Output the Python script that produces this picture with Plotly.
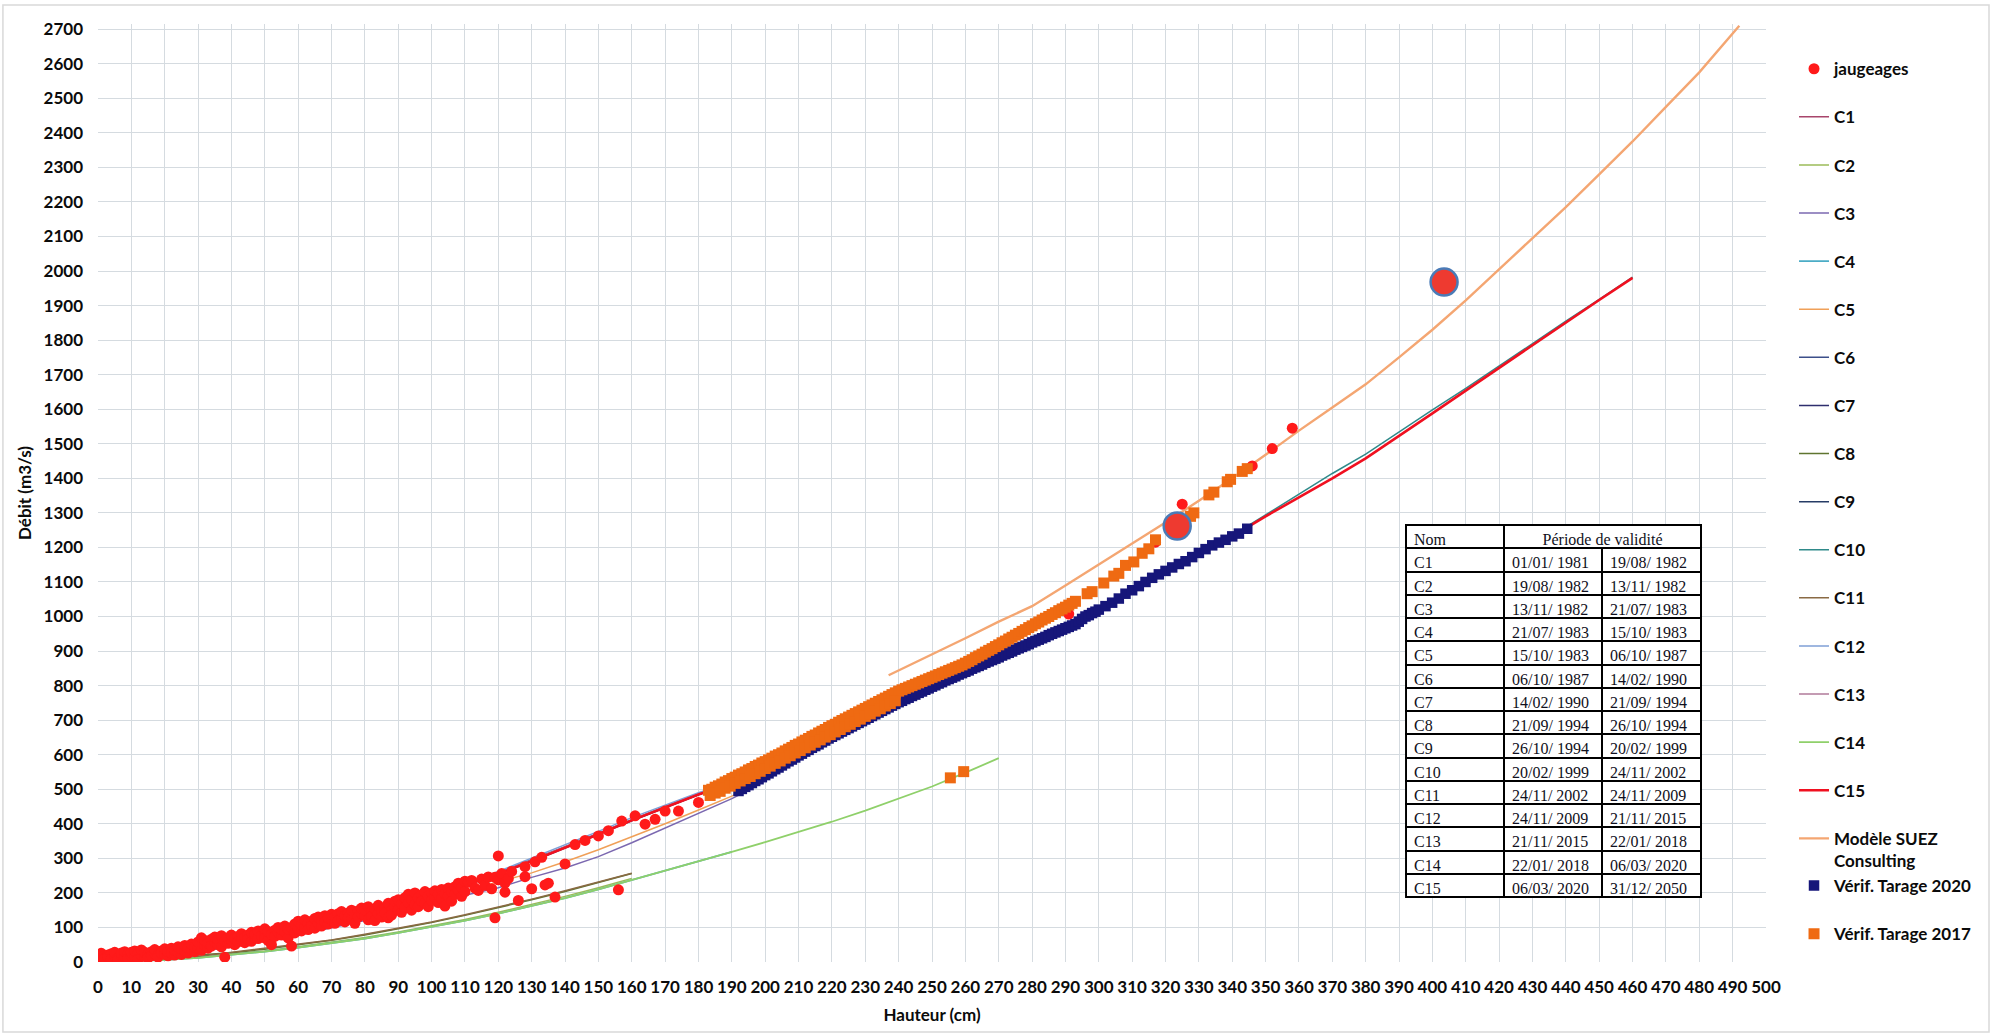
import plotly.graph_objects as go

FONT = "Lato"
INK = "#0b0b0b"

# ---------------------------------------------------------------- gaugings
# (hauteur cm, débit m3/s)
jaugeages = [
    (0, 15), (0, 22), (1, 12), (1, 25), (2, 18), (2, 10), (3, 20), (3, 14), (4, 24), (4, 8),
    (5, 18), (5, 28), (6, 12), (6, 6), (7, 20), (7, 26), (8, 15), (8, 30), (9, 22), (9, 10),
    (10, 18), (10, 28), (11, 14), (11, 32), (12, 24), (12, 8), (13, 20), (13, 35), (14, 16), (14, 28),
    (15, 22), (15, 12), (16, 30), (16, 18), (17, 25), (17, 36), (18, 20), (18, 14), (19, 32), (19, 26),
    (20, 22), (20, 38), (21, 18), (21, 30), (22, 40), (22, 26), (23, 20), (23, 34), (24, 28), (24, 44),
    (25, 22), (25, 38), (26, 32), (26, 48), (27, 26), (27, 40), (28, 36), (28, 52), (29, 30), (29, 44),
    (30, 40), (30, 58), (31, 34), (31, 70), (32, 48), (32, 62), (33, 40), (33, 55), (34, 66), (34, 46),
    (35, 58), (35, 72), (36, 50), (36, 64), (37, 44), (37, 76), (38, 60), (38, 14), (39, 54), (39, 70),
    (40, 62), (40, 78), (41, 50), (41, 68), (42, 74), (42, 58), (43, 64), (43, 82), (44, 56), (44, 72),
    (45, 78), (45, 66), (46, 60), (46, 86), (47, 72), (47, 80), (48, 68), (48, 90), (49, 76), (50, 84),
    (50, 70), (50, 96), (51, 62), (51, 88), (52, 80), (52, 50), (53, 92), (53, 74), (54, 86), (54, 100),
    (55, 78), (55, 94), (56, 88), (56, 104), (57, 70), (57, 96), (58, 46), (58, 100), (59, 84), (59, 110),
    (60, 96), (60, 118), (61, 90), (61, 108), (62, 100), (62, 122), (63, 112), (63, 94), (64, 118), (64, 104),
    (65, 126), (65, 98), (66, 112), (66, 130), (67, 120), (67, 104), (68, 134), (68, 116), (69, 110), (69, 128),
    (70, 122), (70, 138), (71, 112), (71, 130), (72, 140), (72, 120), (73, 126), (73, 146), (74, 116), (74, 134),
    (75, 142), (75, 128), (76, 124), (76, 150), (77, 136), (77, 112), (78, 148), (78, 130), (79, 140), (79, 156),
    (80, 134), (80, 150), (81, 122), (81, 160), (82, 146), (82, 132), (83, 154), (83, 120), (84, 140), (84, 164),
    (85, 150), (85, 130), (86, 158), (86, 142), (87, 128), (87, 170), (88, 150), (88, 136), (89, 162), (89, 176),
    (90, 150), (90, 180), (91, 144), (91, 168), (92, 186), (92, 158), (93, 172), (93, 196), (94, 150), (94, 180),
    (95, 200), (95, 166), (96, 186), (96, 160), (97, 194), (97, 176), (98, 204), (98, 170), (99, 190), (99, 160),
    (100, 200), (100, 178), (101, 188), (101, 206), (102, 172), (102, 196), (103, 210), (103, 184), (104, 162),
    (104, 198), (105, 214), (105, 190), (106, 204), (106, 176), (107, 218), (107, 196), (108, 208), (108, 228),
    (109, 190), (109, 216), (110, 234), (110, 204), (111, 231), (112, 236), (113, 214), (114, 207), (115, 240),
    (116, 222), (117, 246), (118, 212), (119, 245), (119, 128), (120, 307), (120, 238), (121, 256), (122, 228),
    (122, 202), (123, 242), (124, 262), (126, 178), (128, 247), (128, 276), (130, 212), (131, 290), (133, 303),
    (134, 223), (135, 228), (137, 188), (140, 284), (143, 340), (146, 352), (150, 365), (153, 380), (156, 209),
    (157, 408), (161, 423), (164, 399), (167, 413), (170, 437), (174, 437), (180, 462),
    (219, 678), (291, 1007), (317, 1215), (325, 1325), (346, 1436), (352, 1486), (358, 1545),
]

# two highlighted gaugings (large markers, not in legend)
temoins = [(323.5, 1262), (403.5, 1968)]

# ------------------------------------------------------ Vérif. Tarage 2020
verif_2020 = [
    (192, 495), (193, 501), (194, 507), (195, 512), (196, 518), (197, 524), (198, 529), (199, 535),
    (200, 541), (201, 546), (202, 552), (203, 558), (204, 563), (205, 569), (206, 575), (207, 581),
    (208, 586), (209, 592), (210, 598), (211, 603), (212, 609), (213, 614), (214, 620), (215, 625),
    (216, 630), (217, 636), (218, 641), (219, 647), (220, 652), (221, 657), (222, 662), (223, 667),
    (224, 672), (225, 677), (226, 682), (227, 687), (228, 692), (229, 697), (230, 702), (231, 707),
    (232, 712), (233, 717), (234, 722), (235, 727), (236, 732), (237, 737), (238, 742), (239, 747),
    (240, 752), (241, 756), (242, 761), (243, 765), (244, 770), (245, 774), (246, 779), (247, 783),
    (248, 788), (249, 792), (250, 797), (251, 801), (252, 806), (253, 810), (254, 815), (255, 819),
    (256, 823), (257, 827), (258, 832), (259, 836), (260, 840), (261, 844), (262, 849), (263, 853),
    (264, 857), (265, 861), (266, 866), (267, 870), (268, 874), (269, 878), (270, 882), (271, 887),
    (272, 891), (273, 895), (274, 899), (275, 904), (276, 908), (277, 912), (278, 916), (279, 920),
    (280, 925), (281, 929), (282, 933), (283, 937), (284, 941), (285, 946), (286, 950), (287, 954),
    (288, 958), (289, 962), (290, 966), (291, 970), (292, 974), (293, 978), (294, 985), (295, 993),
    (296, 1000), (297, 1004), (298, 1010), (299, 1014), (300, 1020), (302, 1030), (304, 1040),
    (306, 1052), (308, 1066), (310, 1076), (312, 1088), (314, 1100), (316, 1112), (318, 1122),
    (320, 1132), (322, 1142), (324, 1152), (326, 1160), (328, 1172), (330, 1184), (332, 1195),
    (334, 1206), (336, 1214), (338, 1222), (340, 1232), (342, 1240), (344.5, 1254),
]

# ------------------------------------------------------ Vérif. Tarage 2017
verif_2017 = [
    (183, 497), (184, 500), (185, 506), (186, 510), (187, 515), (188, 521), (189, 525), (190, 531),
    (191, 535), (192, 541), (193, 545), (194, 550), (195, 556), (196, 560), (197, 566), (198, 570),
    (199, 576), (200, 580), (201, 585), (202, 590), (203, 596), (204, 600), (205, 605), (206, 611),
    (207, 616), (208, 621), (209, 627), (210, 631), (211, 637), (212, 642), (213, 647), (214, 653),
    (215, 657), (216, 663), (217, 668), (218, 673), (219, 679), (220, 684), (221, 688), (222, 694),
    (223, 699), (224, 704), (225, 709), (226, 714), (227, 719), (228, 724), (229, 729), (230, 734),
    (231, 739), (232, 744), (233, 749), (234, 754), (235, 759), (236, 764), (237, 769), (238, 774),
    (239, 779), (240, 784), (241, 788), (242, 792), (243, 796), (244, 800), (245, 804), (246, 808),
    (247, 812), (248, 816), (249, 820), (250, 824), (251, 828), (252, 832), (253, 836), (254, 840),
    (255, 844), (256, 848), (257, 852), (258, 856), (259, 860), (260, 865), (261, 870), (262, 875),
    (263, 881), (264, 886), (265, 891), (266, 897), (267, 902), (268, 907), (269, 913), (270, 918),
    (271, 924), (272, 929), (273, 935), (274, 940), (275, 946), (276, 951), (277, 957), (278, 962),
    (279, 968), (280, 973), (281, 979), (282, 984), (283, 990), (284, 995), (285, 1000), (286, 1006),
    (287, 1011), (288, 1017), (289, 1022), (290, 1027), (291, 1033), (292, 1038), (293, 1044),
    # lower edge of the dense band
    (183.5, 482), (185, 489), (186.5, 494), (188, 503), (189.5, 509), (191, 517), (192.5, 524),
    (194, 531), (195.5, 537), (197, 545), (198.5, 552), (200, 560), (201.5, 567), (203, 575),
    (204.5, 582), (206, 590), (207.5, 597), (209, 605), (210.5, 612), (212, 620), (213.5, 628),
    (215, 636), (216.5, 643), (218, 651), (219.5, 658), (221, 666), (222.5, 673), (224, 681),
    (225.5, 688), (227, 696), (228.5, 703), (230, 711), (231.5, 718), (233, 726), (234.5, 733),
    (236, 741), (237.5, 748), (239, 756),
    # sparse upper points
    (296.5, 1066), (298, 1072), (301.5, 1097), (304.5, 1117), (306, 1125), (308, 1148), (310.5, 1158),
    (313, 1183), (315, 1196), (317, 1222), (324.5, 1278), (327.5, 1290), (328.5, 1300), (333, 1352),
    (334.5, 1360), (338.5, 1390), (339.5, 1397), (343, 1420), (344.5, 1428),
    # points on the C14 curve
    (255.5, 533), (259.5, 551),
]

# ------------------------------------------------------ rating curves C1..C15
c1_h = [0, 10, 20, 30, 40, 50, 60, 70, 80, 90, 100, 110, 120, 130, 140, 150, 160, 170, 180, 190]
c1_q = [8, 17, 28, 43, 60, 78, 98, 120, 143, 168, 196, 226, 260, 296, 334, 373, 412, 450, 486, 518]

c2_h = [0, 10, 20, 30, 40, 50, 60, 70, 80, 90, 100, 110, 120, 130, 140, 150, 160]
c2_q = [0, 3, 7, 13, 22, 32, 44, 57, 71, 87, 104, 123, 144, 166, 190, 215, 242]

c3_h = [0, 10, 20, 30, 40, 50, 60, 70, 80, 90, 100, 110, 120, 130, 140, 150, 160, 170, 180, 190, 195]
c3_q = [4, 10, 18, 30, 44, 60, 78, 98, 120, 145, 170, 193, 215, 245, 272, 305, 345, 388, 430, 473, 497]

c4_h = [0, 10, 20, 30, 40, 50, 60, 70, 80, 90, 100, 110, 120, 130, 140, 150, 160, 170, 180, 190]
c4_q = [0, 2, 6, 12, 20, 30, 42, 55, 68, 84, 101, 120, 140, 162, 185, 210, 237, 263, 291, 319]

c5_h = [0, 10, 20, 30, 40, 50, 60, 70, 80, 90, 100, 110, 120, 130, 140, 150, 160, 170, 180, 190, 195]
c5_q = [6, 13, 22, 35, 50, 67, 86, 107, 129, 153, 180, 205, 232, 258, 290, 325, 362, 400, 440, 480, 505]

c6_h = [0, 10, 20, 30, 40, 50, 60, 70, 80, 90, 100, 110, 120, 130, 140, 150, 160, 170, 180, 190, 200]
c6_q = [7, 15, 26, 41, 57, 75, 95, 116, 139, 164, 191, 221, 254, 291, 329, 369, 409, 447, 484, 517, 552]

c7_h = [0, 10, 20, 30, 40, 50, 60, 70, 80, 90, 100, 110, 120, 130, 140, 150, 160, 170, 180, 190, 200,
        210, 220, 230, 240, 250]
c7_q = [8, 16, 27, 42, 58, 76, 96, 117, 140, 165, 192, 222, 255, 292, 330, 370, 410, 448, 485, 518, 553,
        600, 652, 702, 752, 798]

c8_h = [20, 30, 40, 50, 60, 70, 80, 90, 100, 110, 120, 130, 140, 150, 160]
c8_q = [14, 20, 27, 37, 49, 63, 78, 95, 114, 135, 157, 180, 204, 230, 256]

c9_h = [0, 10, 20, 30, 40, 50, 60, 70, 80, 90, 100, 110, 120, 130, 140, 150, 160, 170, 180, 190, 200,
        210, 220, 230, 240, 250, 260, 270, 280, 290, 300, 310, 320, 330, 340, 345]
c9_q = [8, 16, 27, 42, 58, 76, 96, 117, 140, 165, 192, 222, 255, 292, 330, 370, 410, 448, 485, 518, 553,
        600, 652, 702, 752, 798, 840, 882, 925, 966, 1015, 1074, 1130, 1182, 1232, 1258]

c10_h = [0, 10, 20, 30, 40, 50, 60, 70, 80, 90, 100, 110, 120, 130, 140, 150, 160, 170, 180, 190, 200,
         210, 220, 230, 240, 250, 260, 270, 280, 290, 300, 310, 320, 330, 340,
         350, 360, 370, 380, 390, 400, 410, 420, 430, 440, 450, 460]
c10_q = [9, 17, 28, 43, 59, 77, 97, 118, 141, 166, 193, 223, 256, 293, 331, 371, 411, 449, 486, 519, 554,
         601, 653, 703, 753, 799, 841, 883, 926, 967, 1016, 1075, 1131, 1183, 1235,
         1294, 1354, 1414, 1470, 1535, 1598, 1660, 1725, 1792, 1855, 1918, 1982]

c11_h = [0, 10, 20, 30, 40, 50, 60, 70, 80, 90, 100, 110, 120, 130, 140, 150, 160]
c11_q = [0, 4, 9, 16, 28, 38, 50, 64, 80, 97, 116, 137, 159, 182, 206, 231, 257]

c12_h = [0, 10, 20, 30, 40, 50, 60, 70, 80, 90, 100, 110, 120, 130, 140, 150, 160, 170, 180, 190, 200]
c12_q = [9, 18, 29, 44, 61, 79, 99, 121, 145, 170, 198, 228, 262, 300, 338, 378, 418, 455, 490, 522, 556]

c13_h = [0, 10, 20, 30, 40, 50, 60, 70, 80, 90, 100, 110, 120, 130, 140, 150, 160, 170, 180, 190, 200,
         210, 220, 230, 240, 250, 260, 270, 280, 290, 300, 310, 320, 330, 340, 345]
c13_q = [9, 17, 28, 43, 59, 77, 97, 119, 142, 167, 194, 224, 257, 294, 332, 372, 412, 449, 486, 519, 554,
         601, 653, 703, 753, 799, 841, 883, 926, 967, 1016, 1075, 1131, 1183, 1233, 1259]

c14_h = [0, 10, 20, 30, 40, 50, 60, 70, 80, 90, 100, 110, 120, 130, 140, 150, 160, 170, 180, 190, 200,
         210, 220, 230, 240, 250, 260, 270]
c14_q = [0, 2, 6, 12, 20, 30, 42, 55, 68, 84, 101, 120, 140, 162, 185, 210, 237, 263, 291, 319, 347,
         376, 406, 438, 472, 508, 548, 590]

c15_h = [0, 10, 20, 30, 40, 50, 60, 70, 80, 90, 100, 110, 120, 130, 140, 150, 160, 170, 180, 190, 200,
         210, 220, 230, 240, 250, 260, 270, 280, 290, 300, 310, 320, 330, 340,
         350, 360, 370, 380, 390, 400, 410, 420, 430, 440, 450, 460]
c15_q = [8, 16, 27, 42, 58, 76, 96, 117, 140, 165, 192, 222, 255, 292, 330, 370, 410, 448, 485, 518, 553,
         600, 652, 702, 752, 798, 840, 882, 925, 966, 1015, 1074, 1130, 1182, 1232,
         1290, 1345, 1400, 1458, 1522, 1588, 1654, 1720, 1786, 1851, 1916, 1980]

suez_h = [237, 250, 260, 270, 280, 290, 300, 310, 320, 330, 340, 350, 360, 370, 380, 390, 400,
          410, 420, 430, 440, 450, 460, 470, 480, 492]
suez_q = [830, 890, 937, 985, 1030, 1090, 1150, 1210, 1272, 1335, 1400, 1468, 1538, 1605, 1672, 1750,
          1830, 1915, 2005, 2095, 2185, 2280, 2375, 2475, 2575, 2710]

# ------------------------------------------------------ validity table
noms = ["C1", "C2", "C3", "C4", "C5", "C6", "C7", "C8", "C9", "C10", "C11", "C12", "C13", "C14", "C15"]
debut = ["01/01/ 1981", "19/08/ 1982", "13/11/ 1982", "21/07/ 1983", "15/10/ 1983", "06/10/ 1987",
         "14/02/ 1990", "21/09/ 1994", "26/10/ 1994", "20/02/ 1999", "24/11/ 2002", "24/11/ 2009",
         "21/11/ 2015", "22/01/ 2018", "06/03/ 2020"]
fin = ["19/08/ 1982", "13/11/ 1982", "21/07/ 1983", "15/10/ 1983", "06/10/ 1987", "14/02/ 1990",
       "21/09/ 1994", "26/10/ 1994", "20/02/ 1999", "24/11/ 2002", "24/11/ 2009", "21/11/ 2015",
       "22/01/ 2018", "06/03/ 2020", "31/12/ 2050"]
table_header = ["Nom", "Période de validité"]

# ------------------------------------------------------ figure
fig = go.Figure()

curve_styles = [
    ("C1", c1_h, c1_q, "#a8456b", 1.5),
    ("C2", c2_h, c2_q, "#9bbb59", 1.5),
    ("C3", c3_h, c3_q, "#7b68b0", 1.5),
    ("C4", c4_h, c4_q, "#4bacc6", 1.8),
    ("C5", c5_h, c5_q, "#f0a058", 1.5),
    ("C6", c6_h, c6_q, "#3c4f8a", 1.5),
    ("C7", c7_h, c7_q, "#2e2e6e", 1.5),
    ("C8", c8_h, c8_q, "#5f7530", 1.5),
    ("C9", c9_h, c9_q, "#263c66", 1.5),
    ("C10", c10_h, c10_q, "#2f8a8a", 1.5),
    ("C11", c11_h, c11_q, "#8a6a44", 1.5),
    ("C12", c12_h, c12_q, "#7f9fd6", 1.5),
    ("C13", c13_h, c13_q, "#b07a9a", 1.5),
    ("C14", c14_h, c14_q, "#8fd06a", 1.8),
    ("C15", c15_h, c15_q, "#f01020", 2.6),
]

for rank, (name, hs, qs, col, w) in enumerate(curve_styles, start=2):
    fig.add_trace(go.Scatter(
        x=hs, y=qs, name=name, mode="lines",
        line=dict(color=col, width=w),
        legendrank=rank, legendgroup=name,
    ))

fig.add_trace(go.Scatter(
    x=suez_h, y=suez_q, name="Modèle SUEZ<br>Consulting", mode="lines",
    line=dict(color="#f4a672", width=2.4),
    legendrank=17, legendgroup="suez",
))

fig.add_trace(go.Scatter(
    x=[p[0] for p in jaugeages], y=[p[1] for p in jaugeages],
    name="jaugeages", mode="markers",
    marker=dict(symbol="circle", size=11, color="#ff1a1a"),
    legendrank=1, legendgroup="jaug",
))

fig.add_trace(go.Scatter(
    x=[p[0] for p in verif_2020], y=[p[1] for p in verif_2020],
    name="Vérif. Tarage 2020", mode="markers",
    marker=dict(symbol="square", size=10.5, color="#16167a"),
    legendrank=18, legendgroup="suez",
))

fig.add_trace(go.Scatter(
    x=[p[0] for p in verif_2017], y=[p[1] for p in verif_2017],
    name="Vérif. Tarage 2017", mode="markers",
    marker=dict(symbol="square", size=11, color="#ef6a12"),
    legendrank=19, legendgroup="v2017",
))

fig.add_trace(go.Scatter(
    x=[p[0] for p in temoins], y=[p[1] for p in temoins],
    mode="markers", showlegend=False,
    marker=dict(symbol="circle", size=27, color="#ee3a30",
                line=dict(color="#4a7bb7", width=2.5)),
))

# validity table: a two-column title row above a three-column body
tbl_x = [0.7842, 0.9616]
tbl_font = dict(family="Liberation Serif", size=16, color="#101020")
tbl_line = dict(color="black", width=2)
fig.add_trace(go.Table(
    domain=dict(x=tbl_x, y=[0.4410, 0.4659]),
    columnwidth=[98, 197],
    header=dict(values=table_header, height=23.3, align=["left", "center"],
                fill_color="white", line=tbl_line, font=tbl_font),
    cells=dict(values=[[], []], height=23.3, fill_color="white", line=tbl_line, font=tbl_font),
))
fig.add_trace(go.Table(
    domain=dict(x=tbl_x, y=[0.060, 0.4410]),
    columnwidth=[98, 98, 99],
    header=dict(values=[noms[0], debut[0], fin[0]], height=23.25, align="left",
                fill_color="white", line=tbl_line, font=tbl_font),
    cells=dict(values=[noms[1:], debut[1:], fin[1:]], height=23.25, align="left",
               fill_color="white", line=tbl_line, font=tbl_font),
))

tick_font = dict(family=FONT, size=17, color=INK, weight="bold")
title_font = dict(family=FONT, size=17, color=INK, weight="bold")

fig.update_layout(
    width=1992, height=1035,
    margin=dict(l=98, r=226, t=24, b=73, autoexpand=False),
    paper_bgcolor="white", plot_bgcolor="white",
    xaxis=dict(
        range=[0, 500], tick0=0, dtick=10, tickangle=0,
        showgrid=True, gridcolor="#d5dbe0", gridwidth=1.3,
        zeroline=False, showline=False, ticks="",
        tickfont=tick_font, ticklabelstandoff=13,
        title=dict(text="Hauteur (cm)", font=title_font, standoff=13),
    ),
    yaxis=dict(
        range=[0, 2715], tick0=0, dtick=100,
        showgrid=True, gridcolor="#d5dbe0", gridwidth=1.3,
        zeroline=False, showline=False, ticks="",
        tickfont=tick_font, ticklabelstandoff=14,
        title=dict(text="Débit (m3/s)", font=title_font, standoff=7),
    ),
    legend=dict(
        x=1.0168, y=0.9710, xanchor="left", yanchor="top",
        font=dict(family=FONT, size=17, color=INK, weight="bold"),
        tracegroupgap=23, valign="top", itemsizing="trace",
        bgcolor="rgba(0,0,0,0)",
    ),
    shapes=[dict(
        type="rect", xref="paper", yref="paper",
        x0=-0.057, x1=1.1337, y0=-0.0746, y1=1.0203,
        line=dict(color="#d9d9d9", width=1.5), fillcolor="rgba(0,0,0,0)",
        layer="below",
    )],
    showlegend=True,
)

fig.write_html("out.html")
